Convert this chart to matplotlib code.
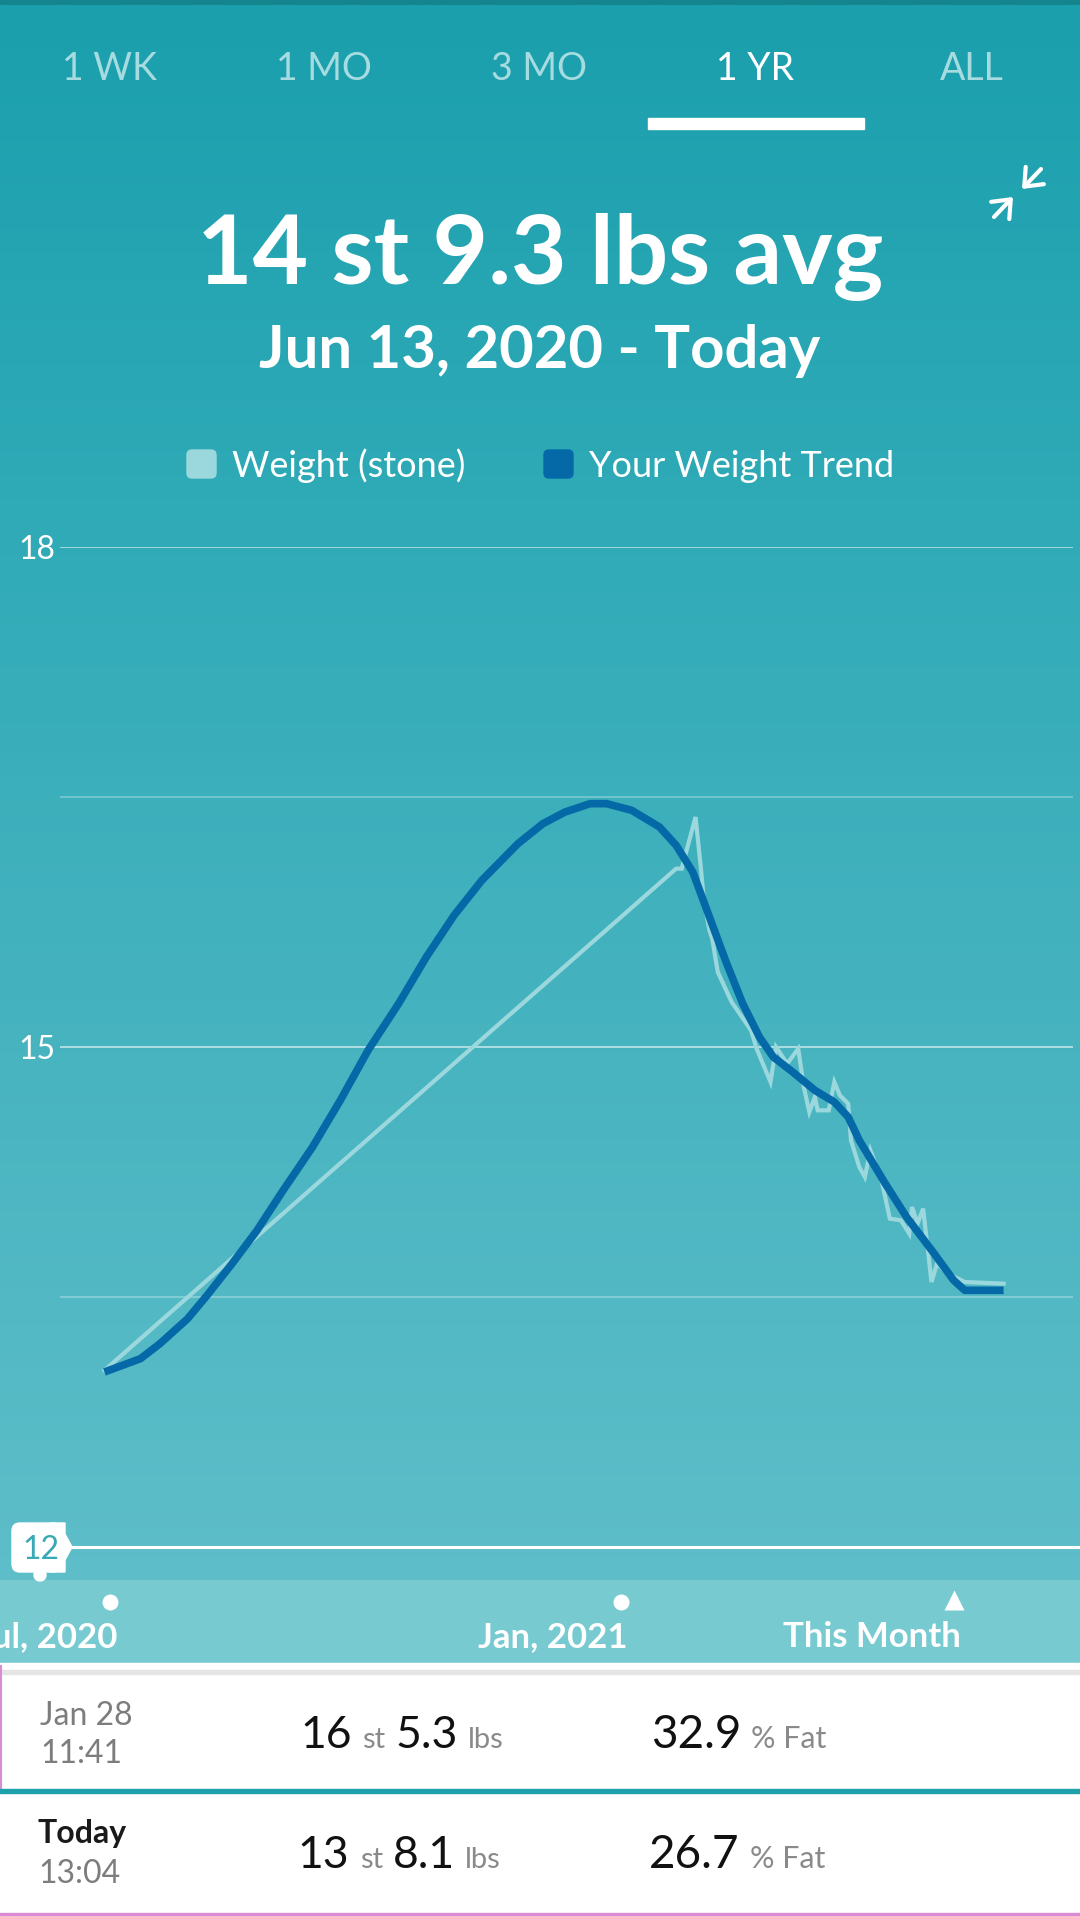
import matplotlib
matplotlib.use('Agg')
import matplotlib.pyplot as plt
import matplotlib.dates as mdates
import matplotlib.transforms as mtransforms
from matplotlib.patches import FancyBboxPatch, Polygon, Rectangle, Circle
import numpy as np
import pandas as pd

plt.rcParams['font.family'] = ['Lato', 'DejaVu Sans']

# ---- datos ----
pestanas = ['1 WK', '1 MO', '3 MO', '1 YR', 'ALL']
pestana_activa = '1 YR'

titulo = '14 st 9.3 lbs avg'
subtitulo = 'Jun 13, 2020 - Today'
nombre_peso = 'Weight (stone)'
nombre_tendencia = 'Your Weight Trend'

fechas_peso = ['2020-06-29', '2021-01-21', '2021-01-23', '2021-01-28', '2021-01-30',
               '2021-01-31', '2021-02-02', '2021-02-03', '2021-02-05', '2021-02-10',
               '2021-02-17', '2021-02-19', '2021-02-24', '2021-02-26', '2021-03-02',
               '2021-03-06', '2021-03-08', '2021-03-10', '2021-03-12', '2021-03-13',
               '2021-03-17', '2021-03-19', '2021-03-21', '2021-03-24', '2021-03-25',
               '2021-03-28', '2021-03-30', '2021-04-01', '2021-04-05', '2021-04-08',
               '2021-04-12', '2021-04-15', '2021-04-16', '2021-04-18', '2021-04-20',
               '2021-04-22', '2021-04-23', '2021-04-25', '2021-04-29', '2021-05-05',
               '2021-05-19']
peso = [13.06, 16.07, 16.07, 16.38, 16.06,
        15.88, 15.70, 15.65, 15.45, 15.27,
        15.10, 14.99, 14.79, 15.00, 14.90,
        14.99, 14.76, 14.61, 14.70, 14.62,
        14.62, 14.79, 14.71, 14.66, 14.44,
        14.28, 14.22, 14.38, 14.20, 13.97,
        13.96, 13.88, 14.04, 13.94, 14.03,
        13.74, 13.59, 13.70, 13.64, 13.59,
        13.58]

fechas_tendencia = ['2020-06-29', '2020-07-12', '2020-07-19', '2020-07-29', '2020-08-05',
                    '2020-08-14', '2020-08-23', '2020-09-01', '2020-09-12', '2020-09-22',
                    '2020-10-02', '2020-10-13', '2020-10-23', '2020-11-02', '2020-11-12',
                    '2020-11-25', '2020-12-04', '2020-12-12', '2020-12-21', '2020-12-27',
                    '2021-01-05', '2021-01-15', '2021-01-21', '2021-01-27', '2021-02-02',
                    '2021-02-08', '2021-02-14', '2021-02-20', '2021-02-25', '2021-03-04',
                    '2021-03-12', '2021-03-19', '2021-03-24', '2021-03-28', '2021-04-06',
                    '2021-04-14', '2021-04-24', '2021-05-01', '2021-05-05', '2021-05-19']
tendencia = [13.05, 13.13, 13.22, 13.37, 13.51,
             13.70, 13.90, 14.13, 14.40, 14.68,
             14.98, 15.26, 15.54, 15.79, 16.00,
             16.22, 16.34, 16.41, 16.46, 16.46,
             16.42, 16.32, 16.21, 16.05, 15.78,
             15.51, 15.26, 15.06, 14.94, 14.85,
             14.74, 14.67, 14.58, 14.44, 14.19,
             13.98, 13.76, 13.60, 13.54, 13.54]

rango_x = ['2020-06-13', '2021-06-13']
y_min, y_max = 12, 18
lineas_y = [13.5, 15, 16.5, 18]
etiquetas_y = [15, 18]

fechas_marca = ['2020-07-01', '2021-01-01', '2021-05-01']
etiquetas_marca = ['Jul, 2020', 'Jan, 2021', 'This Month']

reg_fecha = ['Jan 28', 'Today']
reg_hora = ['11:41', '13:04']
reg_st = ['16', '13']
reg_lbs = ['5.3', '8.1']
reg_grasa = ['32.9', '26.7']

# ---- colores ----
c_peso = '#9bd8de'
c_tend = '#0569a8'
c_tab = '#a6dbe0'
gris = '#7d7d7d'
rosa = '#d98bd3'

W, H = 1080, 1916
fig = plt.figure(figsize=(W / 100, H / 100), dpi=100)

ax = fig.add_axes([60 / W, 1 - 1547 / H, 1013 / W, 1000 / H], zorder=2)
ax.patch.set_alpha(0)
for s in ax.spines.values():
    s.set_visible(False)
ax.set_xticks([])
ax.set_yticks([])

fondo = fig.add_axes([0, 0, 1, 1], zorder=0)
fondo.axis('off')

# degradado de fondo
filas = np.arange(H)
paradas_y = [0, 4, 5, 500, 1000, 1580]
paradas_c = ['#15858f', '#15858f', '#1b9fad', '#2faab7', '#45b3bf', '#5ebec9']
rgb = np.array([matplotlib.colors.to_rgb(c) for c in paradas_c])
grad = np.stack([np.interp(filas, paradas_y, rgb[:, k]) for k in range(3)], axis=1)[:, None, :]
fondo.imshow(grad, extent=[0, W, H, 0], aspect='auto', interpolation='bilinear', zorder=0)
fondo.set_xlim(0, W)
fondo.set_ylim(H, 0)

fondo.add_patch(Rectangle((0, 1580), W, 83, color='#78cad1', zorder=1))
fondo.add_patch(Rectangle((0, 1663), W, H - 1663, color='white', zorder=1))

# pestañas
xs_tab = [109, 324, 539, 755, 972]
for xt, t in zip(xs_tab, pestanas):
    fondo.text(xt, 80, t, ha='center', va='baseline', fontsize=27,
               color='white' if t == pestana_activa else c_tab, zorder=3)
fondo.add_patch(Rectangle((648, 118), 216, 11, color='white', zorder=3))

# icono contraer
flecha = dict(arrowstyle='->,head_length=0.55,head_width=0.45', color='white', lw=3,
              mutation_scale=20, shrinkA=0, shrinkB=0, capstyle='round')
fondo.annotate('', xy=(1022, 189), xytext=(1041, 169), arrowprops=flecha, zorder=3)
fondo.annotate('', xy=(1013, 197), xytext=(994, 217), arrowprops=flecha, zorder=3)

# títulos
fondo.text(540, 284, titulo, ha='center', va='baseline', fontsize=69,
           fontweight='bold', color='white', zorder=3)
fondo.text(540, 368, subtitulo, ha='center', va='baseline', fontsize=43,
           fontweight='bold', color='white', zorder=3)

# leyenda
for x0, col, txt in [(187, c_peso, nombre_peso), (544, c_tend, nombre_tendencia)]:
    fondo.add_patch(FancyBboxPatch((x0, 450), 29, 28, boxstyle='round,pad=0,rounding_size=5',
                                   color=col, zorder=3))
    fondo.text(x0 + 45, 477, txt, ha='left', va='baseline', fontsize=26,
               color='white', zorder=3)

# rejilla y eje y
for v in lineas_y:
    ax.axhline(v, color='white', lw=1.3, alpha=0.6 if v in etiquetas_y else 0.3, zorder=1)
mezcla_y = mtransforms.blended_transform_factory(fondo.transData, ax.transData)
for v in etiquetas_y:
    fondo.annotate(str(v), xy=(18, v), xycoords=mezcla_y, xytext=(0, -8.5),
                   textcoords='offset points', ha='left', va='baseline',
                   fontsize=23, color='white', zorder=3)

# línea y etiqueta del 12
fondo.plot([72, W], [y_min, y_min], color='white', lw=2.2, transform=mezcla_y, zorder=3)
fondo.add_patch(Circle((40, 1575), 6, color='white', zorder=3))
fondo.add_patch(FancyBboxPatch((12, 1523), 50, 49, boxstyle='round,pad=0,rounding_size=8',
                               color='white', zorder=4))
fondo.add_patch(Polygon([(50, 1523), (65, 1523), (65, 1534), (72, 1547), (65, 1560),
                         (65, 1572), (50, 1572)], closed=True, color='white', zorder=4))
fondo.annotate(str(y_min), xy=(22, y_min), xycoords=mezcla_y, xytext=(0, -8.3),
               textcoords='offset points', ha='left', va='baseline',
               fontsize=23, color='#3aa9b6', zorder=5)

# series
fp = mdates.date2num(pd.to_datetime(fechas_peso))
ft = mdates.date2num(pd.to_datetime(fechas_tendencia))
ax.plot(fp, peso, color=c_peso, lw=3, solid_joinstyle='miter', zorder=2)
ax.plot(ft, tendencia, color=c_tend, lw=5.5, solid_joinstyle='round',
        solid_capstyle='butt', zorder=3)
ax.set_xlim(mdates.date2num(pd.to_datetime(rango_x)))
ax.set_ylim(y_min, y_max)

# marcas del eje x
mezcla_x = mtransforms.blended_transform_factory(ax.transData, fondo.transData)
fm = mdates.date2num(pd.to_datetime(fechas_marca))
ax.plot(fm[:-1], [1602] * (len(fm) - 1), 'o', ms=11.5, color='white', mec='none',
        transform=mezcla_x, clip_on=False, zorder=4)
ax.plot(fm[-1:], [1600], '^', ms=15, color='white', mec='none',
        transform=mezcla_x, clip_on=False, zorder=4)
for xm, lbl in zip(fm, etiquetas_marca):
    ax.annotate(lbl, xy=(xm, 1647), xycoords=mezcla_x, xytext=(5, 0),
                textcoords='offset points', ha='right', va='baseline',
                fontsize=25, fontweight='bold', color='white', zorder=4)

# tabla inferior
fondo.add_patch(Rectangle((2, 1670), W, 4, color='#e5e5e5', zorder=2))
fondo.plot([1, 1], [1666, 1788], color=rosa, lw=1.5, zorder=2)
fondo.add_patch(Rectangle((0, 1789), W, 4, color='#1fa1ad', zorder=2))
fondo.add_patch(Rectangle((0, 1913), W, 3, color=rosa, zorder=2))

renderer = fig.canvas.get_renderer()


def fila(piezas, x, y):
    for txt, tam, col, hueco in piezas:
        t = fondo.text(x, y, txt, ha='left', va='baseline', fontsize=tam, color=col, zorder=3)
        bb = t.get_window_extent(renderer)
        x = fondo.transData.inverted().transform((bb.x1, bb.y0))[0] + hueco


base_filas = [1748, 1868]
for i in range(len(reg_fecha)):
    yb = base_filas[i]
    if reg_fecha[i] == 'Today':
        fondo.text(38, yb - 25, reg_fecha[i], fontsize=23, fontweight='bold',
                   color='#1a1a1a', va='baseline', zorder=3)
    else:
        fondo.text(40, yb - 23, reg_fecha[i], fontsize=23, color=gris, va='baseline', zorder=3)
    fondo.text(40 - 2 * i, yb + 15, reg_hora[i], fontsize=23, color=gris, va='baseline', zorder=3)
    fila([(reg_st[i], 32, '#111111', 11), ('st', 21, '#8a8a8a', 10),
          (reg_lbs[i], 32, '#111111', 10), ('lbs', 21, '#8a8a8a', 0)], 300 - 3 * i, yb)
    fila([(reg_grasa[i], 33, '#111111', 10), ('% Fat', 22, '#8a8a8a', 0)], 651 - 2 * i, yb)

fig.savefig('out.png', dpi=100)
